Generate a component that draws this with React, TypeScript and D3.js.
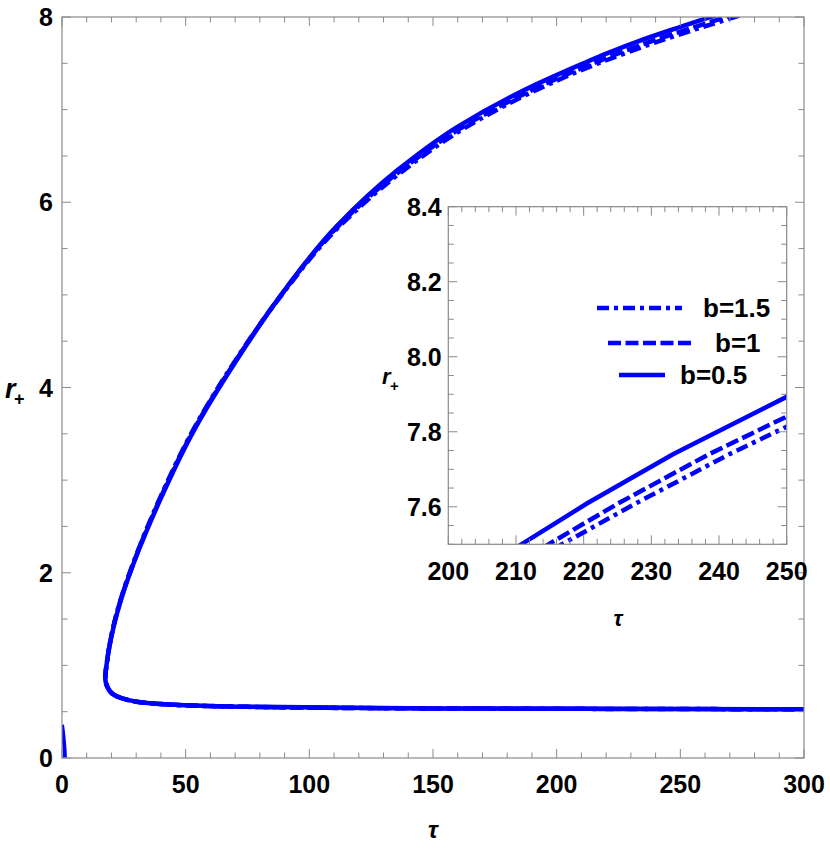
import React from "react";
import * as d3 from "d3";

// ---------- data ----------
// r_+ samples along each curve (lower branch -> turning point -> upper branch)
const rGrid = [0.526, 0.535, 0.554, 0.583, 0.63, 0.72, 0.86, 1.06, 1.42, 1.78, 2.14, 2.8, 3.54, 4.3, 4.96, 5.74, 6.35, 6.82, 7.27, 7.5, 7.61, 7.74, 7.893, 8.1];
// tau values for each b at those r_+
const tauB05 = [300, 150, 72, 39.6, 26.2, 19.4, 17.5, 18.3, 20.9, 24.7, 29.5, 39.9, 53.4, 70.7, 87.5, 111.0, 135.8, 160.2, 191.5, 210.8, 220.6, 233.2, 250.0, 273.5];
const tauB10 = [300, 150, 72, 39.6, 26.2, 19.4, 17.5, 18.3, 20.8, 24.6, 29.4, 39.7, 53.2, 70.5, 87.5, 111.6, 137.3, 162.5, 194.8, 214.8, 225.2, 238.5, 256.0, 280.5];
const tauB15 = [300, 150, 72, 39.6, 26.2, 19.4, 17.5, 18.3, 20.8, 24.5, 29.3, 39.5, 53.0, 70.3, 87.7, 112.2, 138.4, 164.0, 196.5, 216.8, 227.8, 241.5, 259.2, 284.0];
// small branch close to tau = 0
const smallR = [0, 0.1, 0.2, 0.3, 0.36];
const smallTau = [1.2, 1.0, 0.7, 0.3, 0];

const seriesNames = ["b=1.5", "b=1", "b=0.5"];
const mainXTicks = [0, 50, 100, 150, 200, 250, 300];
const mainYTicks = [0, 2, 4, 6, 8];
const insetXTicks = [200, 210, 220, 230, 240, 250];
const insetYTicks = ["7.6", "7.8", "8.0", "8.2", "8.4"];

const BLUE = "#0000ff";
const FRAME = "#8a8a8a";
const FONT = "'Liberation Sans', Arial, Helvetica, sans-serif";

type P = [number, number];
const zipPts = (t: number[], r: number[]): P[] => t.map((v, i) => [v, r[i]]);

const series = [
  { name: "b=1.5", pts: zipPts(tauB15, rGrid), dash: "12,5,4,5" },
  { name: "b=1", pts: zipPts(tauB10, rGrid), dash: "13,4.5" },
  { name: "b=0.5", pts: zipPts(tauB05, rGrid), dash: "" },
];

function Frame({ x, y, xt, yt, minorX, minorY, majorLen, minorLen }: any) {
  const [x0, x1] = x.range();
  const [y0, y1] = y.range();
  const els: any[] = [];
  minorX.forEach((v: number, i: number) => {
    const px = x(v);
    const major = xt.some((m: number) => Math.abs(m - v) < 1e-9);
    const L = major ? majorLen : minorLen;
    els.push(<line key={"xb" + i} x1={px} x2={px} y1={y0} y2={y0 - L} stroke={FRAME} strokeWidth={1} />);
    els.push(<line key={"xt" + i} x1={px} x2={px} y1={y1} y2={y1 + L} stroke={FRAME} strokeWidth={1} />);
  });
  minorY.forEach((v: number, i: number) => {
    const py = y(v);
    const major = yt.some((m: number) => Math.abs(m - v) < 1e-9);
    const L = major ? majorLen : minorLen;
    els.push(<line key={"yl" + i} x1={x0} x2={x0 + L} y1={py} y2={py} stroke={FRAME} strokeWidth={1} />);
    els.push(<line key={"yr" + i} x1={x1} x2={x1 - L} y1={py} y2={py} stroke={FRAME} strokeWidth={1} />);
  });
  return (
    <g>
      {els}
      <rect x={x0} y={y1} width={x1 - x0} height={y0 - y1} fill="none" stroke={FRAME} strokeWidth={1.2} />
    </g>
  );
}

export default function App() {
  // main plot
  const x = d3.scaleLinear().domain([0, 300]).range([62, 804]);
  const y = d3.scaleLinear().domain([0, 8]).range([758, 17]);
  // inset
  const xi = d3.scaleLinear().domain([200, 250]).range([448.3, 786.7]);
  const yi = d3.scaleLinear().domain([7.5, 8.4]).range([544.3, 206.7]);

  // tau is single valued in r_+, so interpolate monotonically along the vertical axis
  const lineMain = d3.line<P>().x((d) => x(d[0])).y((d) => y(d[1])).curve(d3.curveMonotoneY);
  const lineInset = d3.line<P>().x((d) => xi(d[0])).y((d) => yi(d[1])).curve(d3.curveLinear);

  const minorXMain = d3.range(0, 301, 10);
  const minorYMain = d3.range(0, 8.001, 0.5);
  const minorXInset = d3.range(200, 250.001, 2);
  const minorYInset = d3.range(7.5, 8.4001, 0.05).map((v) => Math.round(v * 100) / 100);
  const insetYNums = insetYTicks.map(Number);

  const legendRows = [
    { y: 308, x1: 597, x2: 682, tx: 703 },
    { y: 343, x1: 608, x2: 695, tx: 715 },
    { y: 375, x1: 619, x2: 665, tx: 680 },
  ];

  return (
    <svg width={830} height={851} style={{ position: "absolute", left: 0, top: 0, background: "#fff" }} fontFamily={FONT}>
      <defs>
        <clipPath id="clipMain">
          <rect x={62} y={17} width={742} height={741} />
        </clipPath>
        <clipPath id="clipInset">
          <rect x={448.3} y={206.7} width={338.4} height={337.6} />
        </clipPath>
      </defs>
      <rect x={0} y={0} width={830} height={851} fill="#fff" />

      {/* main curves */}
      <g clipPath="url(#clipMain)">
        {series.map((s) => (
          <path key={s.name} d={lineMain([...s.pts].reverse()) || ""} fill="none" stroke={BLUE} strokeWidth={4.5}
            strokeDasharray={s.dash || undefined} strokeLinejoin="round" />
        ))}
        <path d={lineMain(zipPts(smallTau, smallR).reverse()) || ""} fill="none" stroke={BLUE} strokeWidth={4} />
      </g>

      <Frame x={x} y={y} xt={mainXTicks} yt={mainYTicks} minorX={minorXMain} minorY={minorYMain} majorLen={9} minorLen={5.5} />

      {mainXTicks.map((t) => (
        <text key={"mx" + t} x={x(t)} y={793} textAnchor="middle" fontSize={25} fontWeight="bold">{t}</text>
      ))}
      {mainYTicks.map((t) => (
        <text key={"my" + t} x={53} y={y(t) + 9} textAnchor="end" fontSize={25} fontWeight="bold">{t}</text>
      ))}
      <text x={433} y={838} textAnchor="middle" fontSize={24} fontWeight="bold" fontStyle="italic">τ</text>
      <text x={5} y={398} fontSize={27} fontWeight="bold" fontStyle="italic">r</text>
      <text x={14} y={405} fontSize={18} fontWeight="bold">+</text>

      {/* inset */}
      <rect x={448.3} y={206.7} width={338.4} height={337.6} fill="#fff" />
      <g clipPath="url(#clipInset)">
        {series.map((s) => (
          <path key={"i" + s.name} d={lineInset(s.pts) || ""} fill="none" stroke={BLUE} strokeWidth={4.5}
            strokeDasharray={s.dash || undefined} />
        ))}
      </g>
      <Frame x={xi} y={yi} xt={insetXTicks} yt={insetYNums} minorX={minorXInset} minorY={minorYInset} majorLen={9} minorLen={5.5} />
      {insetXTicks.map((t) => (
        <text key={"ix" + t} x={xi(t)} y={580} textAnchor="middle" fontSize={25} fontWeight="bold">{t}</text>
      ))}
      {insetYTicks.map((t) => (
        <text key={"iy" + t} x={441.7} y={yi(Number(t)) + 9} textAnchor="end" fontSize={25} fontWeight="bold">{t}</text>
      ))}
      <text x={618} y={626} textAnchor="middle" fontSize={22} fontWeight="bold" fontStyle="italic">τ</text>
      <text x={382} y={384} fontSize={22} fontWeight="bold" fontStyle="italic">r</text>
      <text x={390} y={391} fontSize={15} fontWeight="bold">+</text>

      {/* legend */}
      {series.map((s, i) => {
        const row = legendRows[i];
        return (
          <g key={"lg" + s.name}>
            <line x1={row.x1} x2={row.x2} y1={row.y} y2={row.y} stroke={BLUE} strokeWidth={4.5} strokeDasharray={s.dash || undefined} />
            <text x={row.tx} y={row.y + 9} fontSize={26} fontWeight="bold">{seriesNames[i]}</text>
          </g>
        );
      })}
    </svg>
  );
}
